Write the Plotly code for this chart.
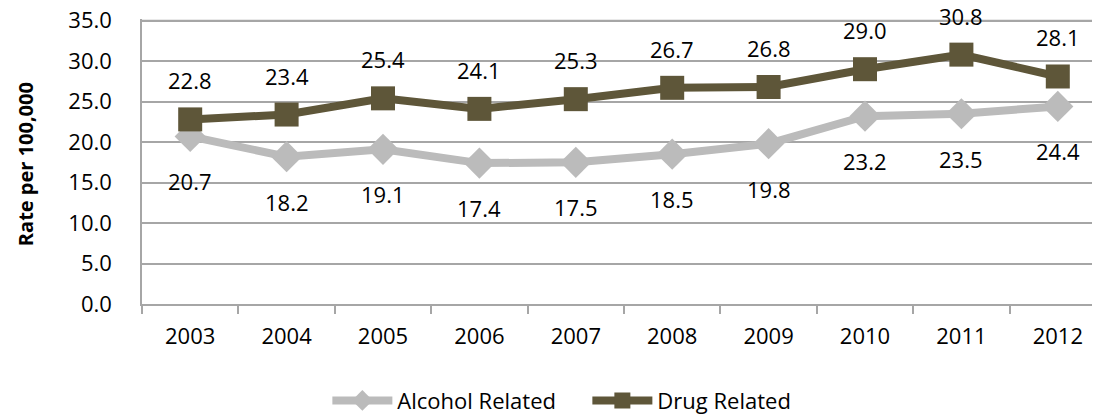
import plotly.graph_objects as go

years = ["2003", "2004", "2005", "2006", "2007", "2008", "2009", "2010", "2011", "2012"]
alcohol = [20.7, 18.2, 19.1, 17.4, 17.5, 18.5, 19.8, 23.2, 23.5, 24.4]
drug = [22.8, 23.4, 25.4, 24.1, 25.3, 26.7, 26.8, 29.0, 30.8, 28.1]
y_ticks = [0, 5, 10, 15, 20, 25, 30, 35]

FONT = "Open Sans"
FS = 22
ALC_COLOR = "#BBBBBB"
DRUG_COLOR = "#5E5639"
GRID = "#A6A6A6"

fig = go.Figure()
fig.add_trace(go.Scatter(
    x=years, y=alcohol, name="Alcohol Related", mode="lines+markers",
    line=dict(color=ALC_COLOR, width=8),
    marker=dict(symbol="diamond", size=24, color=ALC_COLOR),
))
fig.add_trace(go.Scatter(
    x=years, y=drug, name="Drug Related", mode="lines+markers",
    line=dict(color=DRUG_COLOR, width=8),
    marker=dict(symbol="square", size=24, color=DRUG_COLOR),
))

# category axis: annotations placed by category index
for i, v in enumerate(drug):
    fig.add_annotation(x=i, y=v, text=f"{v:.1f}", showarrow=False, yshift=39,
                       font=dict(family=FONT, size=FS, color="#000000"))
for i, v in enumerate(alcohol):
    fig.add_annotation(x=i, y=v, text=f"{v:.1f}", showarrow=False, yshift=-45,
                       font=dict(family=FONT, size=FS, color="#000000"))

fig.add_annotation(xref="paper", yref="paper", x=-0.121, y=0.492, xanchor="center", yanchor="middle",
                   text="<b>Rate per 100,000</b>",
                   textangle=-90, showarrow=False, font=dict(family=FONT, size=20, color="#000000"))

# top gridline at the axis maximum
fig.add_shape(type="line", xref="paper", x0=0, x1=1, yref="y", y0=y_ticks[-1], y1=y_ticks[-1],
              line=dict(color=GRID, width=1.5), layer="above")

fig.update_layout(
    width=1100, height=416,
    margin=dict(l=134, r=2, t=11, b=120),
    paper_bgcolor="white", plot_bgcolor="white",
    font=dict(family=FONT, size=FS, color="#000000"),
    showlegend=True,
    legend=dict(orientation="h", x=0.462, xanchor="center", y=-0.339, yanchor="middle",
                font=dict(family=FONT, size=FS, color="#000000"), itemwidth=60,
                entrywidth=185),
    xaxis=dict(
        type="category", range=[-0.5, 9.5], tickson="boundaries",
        ticks="outside", ticklen=8, tickcolor=GRID, tickwidth=1.5,
        showline=True, linecolor=GRID, linewidth=1.5, automargin=False,
        showgrid=False, zeroline=False, ticklabelstandoff=12,
        tickfont=dict(family=FONT, size=FS),
    ),
    yaxis=dict(
        range=[0, 35.2], tickvals=y_ticks, ticktext=[f"{t:.1f}" for t in y_ticks],
        showgrid=True, gridcolor=GRID, gridwidth=1.5, automargin=False,
        showline=True, linecolor=GRID, linewidth=1.5, zeroline=False,
        ticks="outside", ticklen=24, tickcolor="rgba(0,0,0,0)",
        ticklabeloverflow="allow",
        tickfont=dict(family=FONT, size=FS),
    ),
)

fig.write_html("out.html")
